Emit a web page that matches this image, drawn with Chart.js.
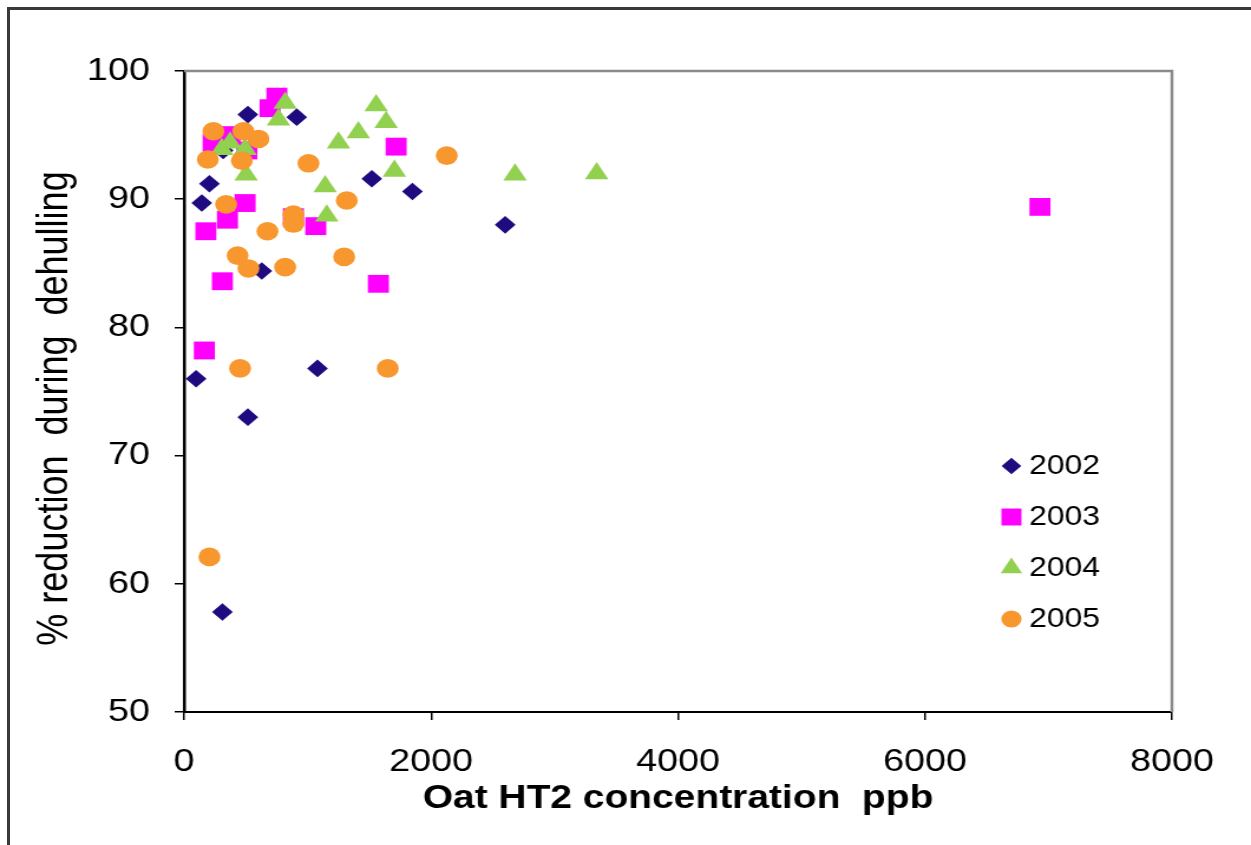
<!DOCTYPE html>
<html>
<head>
<meta charset="utf-8">
<script src="https://cdn.jsdelivr.net/npm/chart.js@4.4.0/dist/chart.umd.min.js"></script>
<style>
  html, body { margin: 0; padding: 0; background: #fff; overflow: hidden; }
  #frame { position: absolute; left: 7px; top: 7px; width: 1300px; height: 900px;
           border-left: 3px solid #3a3a3a; border-top: 3px solid #3a3a3a; }
  /* the reference is stretched sideways, so the chart is drawn narrower and scaled */
  #wrap { position: absolute; left: 0; top: 0; width: 1060px; height: 845px;
          transform: scaleX(1.1802); transform-origin: 0 0; }
</style>
</head>
<body>
<div id="frame"></div>
<div id="wrap"><canvas id="chart"></canvas></div>
<script>
const FONT = "Arial, 'Liberation Sans', sans-serif";

const years = ['2002', '2003', '2004', '2005'];
const xTicks = [0, 2000, 4000, 6000, 8000];
const yTicks = [50, 60, 70, 80, 90, 100];

const x2002 = [97, 143, 205, 316, 516, 912, 1520, 1849, 629, 1080, 516, 310, 2600];
const y2002 = [76.0, 89.7, 91.2, 93.8, 96.6, 96.4, 91.6, 90.6, 84.4, 76.8, 73.0, 57.8, 88.0];

const x2003 = [696, 751, 235, 372, 508, 1717, 494, 351, 176, 885, 1066, 310, 1573, 164, 6931];
const y2003 = [97.1, 98.0, 94.4, 95.0, 93.8, 94.1, 89.7, 88.4, 87.5, 88.6, 87.9, 83.6, 83.4, 78.2, 89.4];

const x2004 = [818, 764, 372, 305, 494, 502, 1555, 1636, 1411, 1250, 1703, 1142, 1155, 2680, 3341];
const y2004 = [97.5, 96.2, 94.4, 93.9, 93.9, 91.9, 97.3, 96.0, 95.2, 94.4, 92.2, 91.0, 88.7, 91.9, 92.0];

const x2005 = [237, 480, 602, 192, 467, 1007, 2127, 340, 1317, 885, 885, 675, 433, 521, 818, 1296, 453, 1649, 205];
const y2005 = [95.3, 95.3, 94.7, 93.1, 93.0, 92.8, 93.4, 89.6, 89.9, 88.8, 88.1, 87.5, 85.6, 84.6, 84.7, 85.5, 76.8, 76.8, 62.1];

const colors = ['#1f0a80', '#ff00ff', '#92d050', '#f7972e'];
const styles = ['rectRot', 'rect', 'triangle', 'circle'];
const radii = [8.8, 12.6, 11.5, 9.3];
const legendRadii = [8.3, 12, 10.5, 8.6];

function pairs(xs, ys) {
    return xs.map((x, i) => ({ x: x, y: ys[i] }));
}

const series = [pairs(x2002, y2002), pairs(x2003, y2003), pairs(x2004, y2004), pairs(x2005, y2005)];

const datasets = years.map((year, i) => ({
    label: year,
    data: series[i],
    pointStyle: styles[i],
    pointRadius: radii[i],
    pointHoverRadius: radii[i],
    backgroundColor: colors[i],
    borderColor: colors[i],
    pointBorderWidth: 0,
    order: years.length - 1 - i, // later years on top
}));

// gray plot frame on the top and right side
const framePlugin = {
    id: 'plotFrame',
    beforeDatasetsDraw(chart) {
        const { ctx, chartArea: a } = chart;
        ctx.save();
        ctx.strokeStyle = '#8a8a8a';
        ctx.lineWidth = 2.5;
        ctx.beginPath();
        ctx.moveTo(a.left, a.top);
        ctx.lineTo(a.right, a.top);
        ctx.lineTo(a.right, a.bottom);
        ctx.stroke();
        ctx.restore();
    }
};

// legend sits inside the plot, lower right; y title drawn a little below centre like the original
const sideLegend = {
    id: 'sideLegend',
    afterDatasetsDraw(chart) {
        const { ctx, chartArea: a } = chart;
        const x0 = a.right - 136;
        chart.data.datasets.forEach((ds, i) => {
            const y = a.top + 395 + i * 51;
            ctx.save();
            ctx.fillStyle = ds.backgroundColor;
            ctx.strokeStyle = ds.backgroundColor;
            Chart.helpers.drawPoint(ctx, { pointStyle: ds.pointStyle, radius: legendRadii[i], rotation: 0, borderWidth: 0 }, x0, y);
            ctx.fillStyle = '#000';
            ctx.font = '27px ' + FONT;
            ctx.textAlign = 'left';
            ctx.textBaseline = 'middle';
            ctx.fillText(ds.label, x0 + 15, y + 1);
            ctx.restore();
        });

        ctx.save();
        ctx.translate(46.6, (a.top + a.bottom) / 2 + 17);
        ctx.rotate(-Math.PI / 2);
        ctx.fillStyle = '#000';
        ctx.font = '36px ' + FONT;
        ctx.textAlign = 'center';
        ctx.textBaseline = 'middle';
        ctx.fillText('% reduction  during  dehulling', 0, 0);
        ctx.restore();
    }
};

const ctx = document.getElementById('chart');

new Chart(ctx, {
    type: 'scatter',
    data: { datasets: datasets },
    options: {
        responsive: true,
        maintainAspectRatio: false,
        animation: false,
        layout: { padding: { left: 8, right: 67, top: 71, bottom: 0 } },
        plugins: {
            legend: { display: false },
            tooltip: { enabled: false }
        },
        scales: {
            x: {
                type: 'linear',
                min: xTicks[0],
                max: xTicks[xTicks.length - 1],
                afterBuildTicks: (s) => { s.ticks = xTicks.map(v => ({ value: v })); },
                afterFit: (s) => { s.height = 133; },
                ticks: {
                    color: '#000',
                    font: { family: FONT, size: 32 },
                    padding: 23,
                    maxRotation: 0,
                    callback: (v) => String(v)
                },
                grid: { drawOnChartArea: false, tickLength: 8, color: '#000', lineWidth: 1.5 },
                border: { color: '#000', width: 2 },
                title: {
                    display: true,
                    text: 'Oat HT2 concentration  ppb',
                    color: '#000',
                    font: { family: FONT, size: 33, weight: 'bold' },
                    padding: { top: 4, bottom: 26 }
                }
            },
            y: {
                type: 'linear',
                min: yTicks[0],
                max: yTicks[yTicks.length - 1],
                afterBuildTicks: (s) => { s.ticks = yTicks.map(v => ({ value: v })); },
                afterFit: (s) => { s.width = 148; },
                ticks: { color: '#000', font: { family: FONT, size: 32 }, padding: 21 },
                grid: { drawOnChartArea: false, tickLength: 8, color: '#000', lineWidth: 1.5 },
                border: { color: '#000', width: 2.5 }
            }
        }
    },
    plugins: [framePlugin, sideLegend]
});
</script>
</body>
</html>
